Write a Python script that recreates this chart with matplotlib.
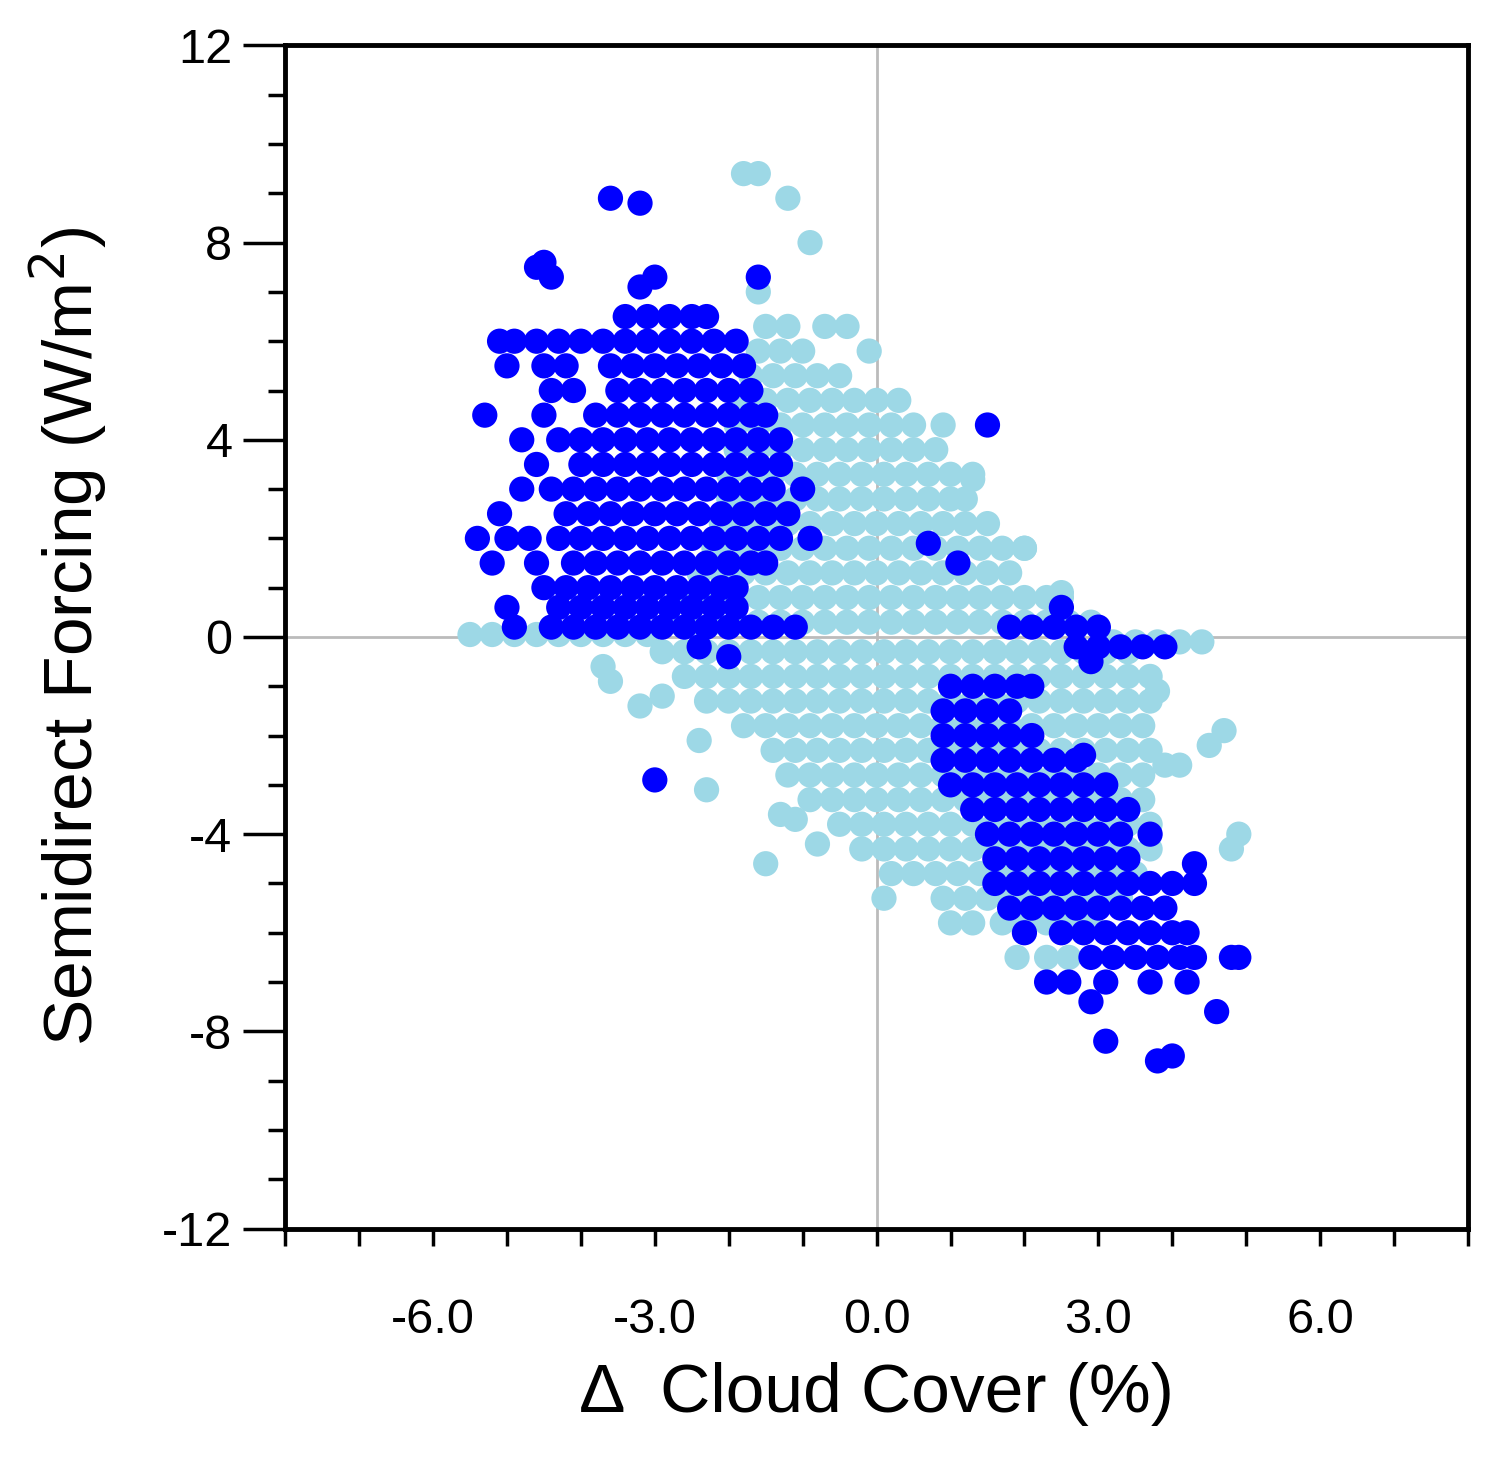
import matplotlib
matplotlib.use("Agg")
import matplotlib.pyplot as plt
from matplotlib.ticker import MultipleLocator

plt.rcParams['font.family'] = ['Liberation Sans', 'DejaVu Sans']
plt.rcParams['axes.unicode_minus'] = False

# light blue (all points): rows of (y, [x...])
light_rows = [
    (9.4, [-1.8, -1.6]), (8.9, [-1.2]), (8.0, [-0.9]), (7.0, [-1.6]),
    (6.3, [-1.5, -1.2, -0.7, -0.4]),
    (5.8, [-1.6, -1.3, -1.0, -0.1]),
    (5.3, [-1.7, -1.4, -1.1, -0.8, -0.5]),
    (4.8, [-1.8, -1.5, -1.2, -0.9, -0.6, -0.3, 0.0, 0.3]),
    (4.3, [-1.9, -1.6, -1.3, -1.0, -0.7, -0.4, -0.1, 0.2, 0.5, 0.9]),
    (3.8, [-1.9, -1.6, -1.3, -1.0, -0.7, -0.4, -0.1, 0.2, 0.5, 0.8]),
    (3.3, [-2.0, -1.7, -1.4, -1.1, -0.8, -0.5, -0.2, 0.1, 0.4, 0.7, 1.0, 1.3]),
    (2.8, [-2.0, -1.7, -1.4, -1.1, -0.8, -0.5, -0.2, 0.1, 0.4, 0.7, 1.0, 1.2]),
    (2.3, [-2.1, -1.8, -1.5, -1.2, -0.9, -0.6, -0.3, 0.0, 0.3, 0.6, 0.9, 1.2, 1.5]),
    (1.8, [-2.2, -1.9, -1.6, -1.3, -1.0, -0.7, -0.4, -0.1, 0.2, 0.5, 0.8, 1.1, 1.4, 1.7, 2.0]),
    (1.3, [-2.4, -2.1, -1.8, -1.5, -1.2, -0.9, -0.6, -0.3, 0.0, 0.3, 0.6, 0.9, 1.2, 1.5, 1.8]),
    (0.8, [-2.5, -2.2, -1.9, -1.6, -1.3, -1.0, -0.7, -0.4, -0.1, 0.2, 0.5, 0.8, 1.1, 1.4, 1.7, 2.0, 2.3, 2.5]),
    (0.3, [-2.8, -2.5, -2.2, -1.9, -1.6, -1.3, -1.0, -0.7, -0.4, -0.1, 0.2, 0.5, 0.8, 1.1, 1.4, 1.7, 2.0, 2.3, 2.6, 2.9]),
    (0.05, [-5.5, -5.2, -4.9, -4.6, -4.3, -4.0, -3.7, -3.4, -3.1]),
    (-0.1, [3.2, 3.5, 3.8, 4.1, 4.4]),
    (-0.3, [-2.9, -2.6, -2.3, -2.0, -1.7, -1.4, -1.1, -0.8, -0.5, -0.2, 0.1, 0.4, 0.7, 1.0, 1.3, 1.6, 1.9, 2.2, 2.5, 2.8, 3.1, 3.4]),
    (-0.8, [-2.6, -2.3, -2.0, -1.7, -1.4, -1.1, -0.8, -0.5, -0.2, 0.1, 0.4, 0.7, 1.0, 1.3, 1.6, 1.9, 2.2, 2.5, 2.8, 3.1, 3.4, 3.7]),
    (-1.3, [-2.3, -2.0, -1.7, -1.4, -1.1, -0.8, -0.5, -0.2, 0.1, 0.4, 0.7, 1.0, 1.3, 1.6, 1.9, 2.2, 2.5, 2.8, 3.1, 3.4, 3.7]),
    (-1.8, [-1.8, -1.5, -1.2, -0.9, -0.6, -0.3, 0.0, 0.3, 0.6, 0.9, 1.2, 1.5, 1.8, 2.1, 2.4, 2.7, 3.0, 3.3, 3.6]),
    (-2.3, [-1.4, -1.1, -0.8, -0.5, -0.2, 0.1, 0.4, 0.7, 1.0, 1.3, 1.6, 1.9, 2.2, 2.5, 2.8, 3.1, 3.4, 3.7]),
    (-2.8, [-1.2, -0.9, -0.6, -0.3, 0.0, 0.3, 0.6, 0.9, 1.2, 1.5, 1.8, 2.1, 2.4, 2.7, 3.0, 3.3, 3.6]),
    (-3.3, [-0.9, -0.6, -0.3, 0.0, 0.3, 0.6, 0.9, 1.2, 1.5, 1.8, 2.1, 2.4, 2.7, 3.0, 3.3, 3.6]),
    (-3.8, [-0.5, -0.2, 0.1, 0.4, 0.7, 1.0, 1.3, 1.6, 1.9, 2.2, 2.5, 2.8, 3.1, 3.4, 3.7]),
    (-4.3, [-0.2, 0.1, 0.4, 0.7, 1.0, 1.3, 1.6, 1.9, 2.2, 2.5, 2.8, 3.1, 3.4, 3.7]),
    (-4.8, [0.2, 0.5, 0.8, 1.1, 1.4, 1.7, 2.0, 2.3, 2.6, 2.9, 3.2, 3.5]),
    (-5.3, [0.1, 0.9, 1.2, 1.5, 1.8, 2.1, 2.4, 2.7, 3.0, 3.3]),
    (-5.8, [1.0, 1.3, 1.7, 2.0, 2.3, 2.6, 2.9]),
    (-6.5, [1.9, 2.3, 2.6]),
]
light_extra_x = [-3.7, -3.6, -3.2, -2.9, -2.4, -2.3, -1.5, -1.3, -1.1, -0.8, 4.7, 4.5, 4.1, 4.9, 4.8, 3.9, 3.8, 2.0, 2.5, 1.3]
light_extra_y = [-0.6, -0.9, -1.4, -1.2, -2.1, -3.1, -4.6, -3.6, -3.7, -4.2, -1.9, -2.2, -2.6, -4.0, -4.3, -2.6, -1.1, 1.8, 0.9, 3.2]

# dark blue (subset)
dark_rows = [
    (8.9, [-3.6]), (8.8, [-3.2]), (7.6, [-4.5]), (7.5, [-4.6]), (7.3, [-4.4, -3.0, -1.6]), (7.1, [-3.2]),
    (6.5, [-3.4, -3.1, -2.8, -2.5, -2.3]),
    (6.0, [-5.1, -4.9, -4.6, -4.3, -4.0, -3.7, -3.4, -3.1, -2.8, -2.5, -2.2, -1.9]),
    (5.5, [-5.0, -4.5, -4.2, -3.6, -3.3, -3.0, -2.7, -2.4, -2.1, -1.8]),
    (5.0, [-4.4, -4.1, -3.5, -3.2, -2.9, -2.6, -2.3, -2.0, -1.7]),
    (4.5, [-5.3, -4.5, -3.8, -3.5, -3.2, -2.9, -2.6, -2.3, -2.0, -1.7, -1.5]),
    (4.0, [-4.8, -4.3, -4.0, -3.7, -3.4, -3.1, -2.8, -2.5, -2.2, -1.9, -1.6, -1.3]),
    (3.5, [-4.6, -4.0, -3.7, -3.4, -3.1, -2.8, -2.5, -2.2, -1.9, -1.6, -1.3]),
    (3.0, [-4.8, -4.4, -4.1, -3.8, -3.5, -3.2, -2.9, -2.6, -2.3, -2.0, -1.7, -1.4, -1.0]),
    (2.5, [-5.1, -4.2, -3.9, -3.6, -3.3, -3.0, -2.7, -2.4, -2.1, -1.8, -1.5, -1.2]),
    (2.0, [-5.4, -5.0, -4.7, -4.3, -4.0, -3.7, -3.4, -3.1, -2.8, -2.5, -2.2, -1.9, -1.6, -1.3, -0.9]),
    (1.5, [-5.2, -4.6, -4.1, -3.8, -3.5, -3.2, -2.9, -2.6, -2.3, -2.0, -1.7, -1.5]),
    (1.0, [-4.5, -4.2, -3.9, -3.6, -3.3, -3.0, -2.7, -2.4, -2.1, -1.9]),
    (0.6, [-5.0, -4.3, -4.0, -3.7, -3.4, -3.1, -2.8, -2.5, -2.2, -1.9]),
    (0.2, [-4.9, -4.4, -4.1, -3.8, -3.5, -3.2, -2.9, -2.6, -2.3, -2.0, -1.7, -1.4, -1.1, 1.8, 2.1, 2.4, 2.7, 3.0]),
    (4.3, [1.5]), (1.9, [0.7]), (1.5, [1.1]), (0.6, [2.5]),
    (-0.2, [2.7, 3.0, 3.3, 3.6, 3.9, -2.4]), (-0.5, [2.9]), (-0.4, [-2.0]), (-2.9, [-3.0]),
    (-1.0, [1.0, 1.3, 1.6, 1.9, 2.1]),
    (-1.5, [0.9, 1.2, 1.5, 1.8]),
    (-2.0, [0.9, 1.2, 1.5, 1.8, 2.1]),
    (-2.5, [0.9, 1.2, 1.5, 1.8, 2.1, 2.4, 2.7]),
    (-3.0, [1.0, 1.3, 1.6, 1.9, 2.2, 2.5, 2.8, 3.1]),
    (-3.5, [1.3, 1.6, 1.9, 2.2, 2.5, 2.8, 3.1, 3.4]),
    (-4.0, [1.5, 1.8, 2.1, 2.4, 2.7, 3.0, 3.3, 3.7]),
    (-4.5, [1.6, 1.9, 2.2, 2.5, 2.8, 3.1, 3.4]),
    (-5.0, [1.6, 1.9, 2.2, 2.5, 2.8, 3.1, 3.4, 3.7, 4.0, 4.3]),
    (-5.5, [1.8, 2.1, 2.4, 2.7, 3.0, 3.3, 3.6, 3.9]),
    (-6.0, [2.0, 2.5, 2.8, 3.1, 3.4, 3.7, 4.0, 4.2]),
    (-6.5, [2.9, 3.2, 3.5, 3.8, 4.1, 4.3, 4.8, 4.9]),
    (-7.0, [2.3, 2.6, 3.1, 3.7, 4.2]),
    (-7.4, [2.9]), (-8.2, [3.1]), (-8.6, [3.8]), (-8.5, [4.0]), (-7.6, [4.6]), (-4.6, [4.3]),
    (-2.4, [2.8]),
]

light_x = [x for y, xs in light_rows for x in xs] + light_extra_x
light_y = [y for y, xs in light_rows for x in xs] + light_extra_y
dark_x = [x for y, xs in dark_rows for x in xs]
dark_y = [y for y, xs in dark_rows for x in xs]

fig = plt.figure(figsize=(15.01, 14.66), dpi=100)
ax = fig.add_axes([0.19, 0.162, 0.788, 0.807])
ax.axhline(0, color="#bbbbbb", lw=2, zorder=1)
ax.axvline(0, color="#bbbbbb", lw=2, zorder=1)
ax.scatter(light_x, light_y, s=330, color="#9dd8e6", edgecolors="none", zorder=2)
ax.scatter(dark_x, dark_y, s=330, color="#0000ff", edgecolors="none", zorder=3)

ax.set_xlim(-8, 8)
ax.set_ylim(-12, 12)
ax.set_xticks([-6, -3, 0, 3, 6])
ax.set_xticklabels(["-6.0", "-3.0", "0.0", "3.0", "6.0"])
ax.xaxis.set_minor_locator(MultipleLocator(1))
ax.set_yticks([-12, -8, -4, 0, 4, 8, 12])
ax.set_yticklabels(["-12", "-8", "-4", "0", "4", "8", "12"])
ax.yaxis.set_minor_locator(MultipleLocator(1))
for s in ax.spines.values():
    s.set_linewidth(3.5)
ax.tick_params(which="both", direction="out", width=2.5, labelsize=35)
ax.tick_params(axis="y", which="major", length=30, pad=8)
ax.tick_params(axis="x", which="major", length=12, pad=38)
ax.tick_params(which="minor", length=12)
ax.set_xlabel("Δ  Cloud Cover (%)", fontsize=50, labelpad=14)
ax.set_ylabel("Semidirect Forcing (W/m$^2$)", fontsize=50, labelpad=38)
fig.savefig("out.png", dpi=100)
